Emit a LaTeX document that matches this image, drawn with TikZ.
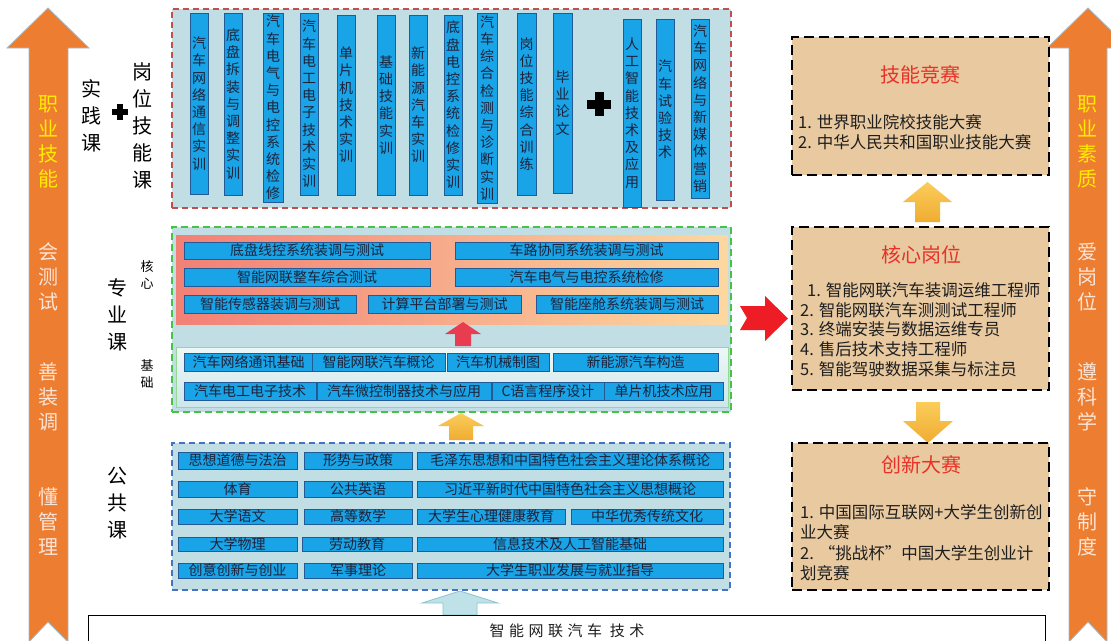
\documentclass[tikz,border=0pt]{standalone}
\usepackage{fontspec}
\setmainfont{Noto Sans CJK SC}
\newfontfamily\spacedfont[LetterSpace=30]{Noto Sans CJK SC}
\definecolor{arrOrange}{RGB}{237,125,49}
\definecolor{arrEdge}{RGB}{165,188,200}
\definecolor{hiYellow}{RGB}{255,236,0}
\definecolor{softTxt}{RGB}{252,228,214}
\definecolor{barFill}{RGB}{24,164,230}
\definecolor{barEdge}{RGB}{35,90,150}
\definecolor{barTxt}{RGB}{30,35,60}
\definecolor{panelFill}{RGB}{192,222,228}
\definecolor{redDash}{RGB}{192,80,77}
\definecolor{greenDash}{RGB}{70,195,70}
\definecolor{blueDash}{RGB}{68,114,196}
\definecolor{tanFill}{RGB}{232,201,160}
\definecolor{titleRed}{RGB}{230,50,40}
\definecolor{goldTop}{RGB}{250,205,90}
\definecolor{goldBot}{RGB}{240,172,50}
\definecolor{coreL}{RGB}{242,128,118}
\definecolor{coreR}{RGB}{252,216,160}
\definecolor{redArr}{RGB}{238,28,36}
\definecolor{pinkArr}{RGB}{232,60,80}
\definecolor{cyanArr}{RGB}{190,226,232}
\definecolor{cyanEdge}{RGB}{140,195,205}
\definecolor{itemTxt}{RGB}{30,30,30}
\newcommand\myvbar[6]{\node[vbarsty, minimum width={#4-#2}, minimum height={#5-#3}] (#1) at ({(#2+#4)/2},{(#3+#5)/2}) {#6};}
\newcommand\myhbar[6]{\node[hbarsty, minimum width={#4-#2}, minimum height={#5-#3}] (#1) at ({(#2+#4)/2},{(#3+#5)/2}) {#6};}
\newcommand\plusmark[4]{\fill[black] ({#1-#3},{#2-#4/2}) rectangle ({#1+#3},{#2+#4/2});
  \fill[black] ({#1-#4/2},{#2-#3}) rectangle ({#1+#4/2},{#2+#3});}
\begin{document}
\begin{tikzpicture}[x=1pt,y=-1pt,
  vbarsty/.style={draw=barEdge, fill=barFill, line width=0.6, inner sep=0pt, outer sep=0pt, align=center, text=barTxt, font=\fontsize{14}{17.2}\selectfont},
  hbarsty/.style={draw=barEdge, fill=barFill, line width=0.6, inner sep=0pt, outer sep=0pt, text=barTxt, font=\fontsize{14}{16}\selectfont},
  arrtxt/.style={align=center, inner sep=0pt, font=\fontsize{20}{25}\selectfont},
  lbl/.style={align=center, inner sep=0pt, text=black, font=\fontsize{20}{27}\selectfont},
  smalllbl/.style={align=center, inner sep=0pt, text=black, font=\fontsize{13}{17}\selectfont},
  panel/.style={line width=1.5, dash pattern=on 6pt off 4pt, fill=panelFill, inner sep=0pt, outer sep=0pt, anchor=north west},
  rbox/.style={draw=black, line width=2.2, dash pattern=on 10pt off 5pt, fill=tanFill, inner sep=0pt, outer sep=0pt, anchor=north west},
  rtitle/.style={text=titleRed, inner sep=0pt, font=\fontsize{20}{24}\selectfont},
  item/.style={text=itemTxt, inner sep=0pt, anchor=west, font=\fontsize{16.5}{20}\selectfont}
]
\useasboundingbox (0,0) rectangle (1111,640);
\clip (0,0) rectangle (1111,640);
\fill[white] (0,0) rectangle (1111,640);

% ---------- side arrows ----------
\filldraw[fill=arrOrange, draw=arrEdge, line width=0.8]
  (29,48) -- (7,48) -- (48,8) -- (89,48) -- (68,48) -- (68,642) -- (48,622) -- (29,642) -- cycle;
\node[arrtxt, text=hiYellow] (lzy) at (48,141.5) {职\\业\\技\\能};
\node[arrtxt, text=softTxt] (lcs) at (48,277) {会\\测\\试};
\node[arrtxt, text=softTxt] (lzt) at (48,397) {善\\装\\调};
\node[arrtxt, text=softTxt] (lgl) at (48,522) {懂\\管\\理};

\filldraw[fill=arrOrange, draw=arrEdge, line width=0.8]
  (1069,48) -- (1047,48) -- (1088,8) -- (1129,48) -- (1107,48) -- (1107,642) -- (1088,622) -- (1069,642) -- cycle;
\node[arrtxt, text=hiYellow] (rzy) at (1087,141.5) {职\\业\\素\\质};
\node[arrtxt, text=softTxt] (rag) at (1087,277) {爱\\岗\\位};
\node[arrtxt, text=softTxt] (rzk) at (1087,397) {遵\\科\\学};
\node[arrtxt, text=softTxt] (rsz) at (1087,522) {守\\制\\度};

% ---------- left labels ----------
\node[lbl] (shijian) at (91,116) {实\\践\\课};
\plusmark{120}{112}{8}{6}
\node[lbl] (gangwei) at (142,126) {岗\\位\\技\\能\\课};
\node[lbl] (zhuanye) at (117,315) {专\\业\\课};
\node[smalllbl] (hexin) at (147,275) {核\\心};
\node[smalllbl] (jichu) at (147,374) {基\\础};
\node[lbl] (gonggong) at (117,503) {公\\共\\课};

% ---------- practice panel ----------
\node[panel, draw=redDash, minimum width=559, minimum height=199] (practice) at (172,9) {};
\myvbar{v1}{190}{13}{208}{194}{汽\\车\\网\\络\\通\\信\\实\\训}
\myvbar{v2}{224}{13}{242}{195}{底\\盘\\拆\\装\\与\\调\\整\\实\\训}
\myvbar{v3}{263}{13}{283}{202}{汽\\车\\电\\气\\与\\电\\控\\系\\统\\检\\修}
\myvbar{v4}{300}{13}{318}{195}{汽\\车\\电\\工\\电\\子\\技\\术\\实\\训}
\myvbar{v5}{337}{15}{355}{195}{单\\片\\机\\技\\术\\实\\训}
\myvbar{v6}{377}{15}{395}{195}{基\\础\\技\\能\\实\\训}
\myvbar{v7}{409}{15}{427}{195}{新\\能\\源\\汽\\车\\实\\训}
\myvbar{v8}{444}{15}{462}{195}{底\\盘\\电\\控\\系\\统\\检\\修\\实\\训}
\myvbar{v9}{477}{13}{497}{203}{汽\\车\\综\\合\\检\\测\\与\\诊\\断\\实\\训}
\myvbar{v10}{517}{13}{536}{195}{岗\\位\\技\\能\\综\\合\\训\\练}
\myvbar{v11}{553}{13}{572}{193}{毕\\业\\论\\文}
\plusmark{599}{104}{12}{9}
\myvbar{v12}{623}{19}{641}{207}{人\\工\\智\\能\\技\\术\\及\\应\\用}
\myvbar{v13}{656}{19}{674}{200}{汽\\车\\试\\验\\技\\术}
\myvbar{v14}{691}{19}{709}{198}{汽\\车\\网\\络\\与\\新\\媒\\体\\营\\销}

% ---------- professional panel ----------
\node[panel, draw=greenDash, line width=1.8, dash pattern=on 7pt off 4pt, minimum width=559, minimum height=185] (major) at (172,227) {};
\shade[left color=coreL, right color=coreR] (176,235) rectangle (728,324);
\shade[top color={rgb,255:red,238;green,247;blue,247}, bottom color={rgb,255:red,205;green,230;blue,235}, draw={rgb,255:red,150;green,215;blue,150}, line width=1] (176,347) rectangle (728,407);
\myhbar{c1}{184}{242}{430}{259}{底盘线控系统装调与测试}
\myhbar{c2}{455}{242}{718}{259}{车路协同系统装调与测试}
\myhbar{c3}{184}{268}{430}{286}{智能网联整车综合测试}
\myhbar{c4}{455}{268}{718}{286}{汽车电气与电控系统检修}
\myhbar{c5}{184}{295}{356}{313}{智能传感器装调与测试}
\myhbar{c6}{368}{295}{521}{313}{计算平台部署与测试}
\myhbar{c7}{536}{295}{718}{313}{智能座舱系统装调与测试}
\fill[pinkArr] (455,346) -- (455,334) -- (445,334) -- (463,322) -- (481,334) -- (471,334) -- (471,346) -- cycle;
\myhbar{j1}{184}{353}{313}{371}{汽车网络通讯基础}
\myhbar{j2}{312}{353}{445}{371}{智能网联汽车概论}
\myhbar{j3}{447}{353}{549}{371}{汽车机械制图}
\myhbar{j4}{553}{353}{718}{371}{新能源汽车构造}
\myhbar{j5}{184}{382}{316}{400}{汽车电工电子技术}
\myhbar{j6}{317}{382}{491}{400}{汽车微控制器技术与应用}
\myhbar{j7}{492}{382}{604}{400}{C语言程序设计}
\myhbar{j8}{604}{382}{723}{400}{单片机技术应用}

% ---------- arrow public -> major ----------
\shade[top color=goldTop, bottom color=goldBot] (449,440) -- (449,426) -- (438,426) -- (461,413) -- (484,426) -- (473,426) -- (473,440) -- cycle;

% ---------- public panel ----------
\node[panel, draw=blueDash, minimum width=558, minimum height=147] (public) at (172,443) {};
\myhbar{p1}{178}{452}{297}{469}{思想道德与法治}
\myhbar{p2}{304}{452}{412}{469}{形势与政策}
\myhbar{p3}{417}{452}{723}{469}{毛泽东思想和中国特色社会主义理论体系概论}
\myhbar{p4}{178}{481}{297}{497}{体育}
\myhbar{p5}{304}{481}{412}{497}{公共英语}
\myhbar{p6}{417}{481}{723}{497}{习近平新时代中国特色社会主义思想概论}
\myhbar{p7}{178}{509}{297}{524}{大学语文}
\myhbar{p8}{304}{509}{412}{524}{高等数学}
\myhbar{p9}{417}{509}{565}{524}{大学生心理健康教育}
\myhbar{p10}{571}{509}{723}{524}{中华优秀传统文化}
\myhbar{p11}{178}{537}{297}{551}{大学物理}
\myhbar{p12}{302}{537}{412}{551}{劳动教育}
\myhbar{p13}{417}{537}{723}{551}{信息技术及人工智能基础}
\myhbar{p14}{178}{563}{297}{578}{创意创新与创业}
\myhbar{p15}{304}{563}{412}{578}{军事理论}
\myhbar{p16}{417}{563}{723}{578}{大学生职业发展与就业指导}

% ---------- base ----------
\filldraw[fill=cyanArr, draw=cyanEdge, line width=0.8] (443,615) -- (443,603) -- (422,603) -- (460,591) -- (498,603) -- (477,603) -- (477,615) -- cycle;
\node[draw=black, line width=0.8, fill=white, inner sep=0pt, outer sep=0pt, anchor=north west, minimum width=957, minimum height=45] (base) at (88,615) {};
\node[inner sep=0pt, text=itemTxt, font=\spacedfont\fontsize{15}{18}\selectfont] (basetxt) at (567,631) {智能网联汽车 技术};

% ---------- red arrow to the right ----------
\fill[redArr] (740,306) -- (765,306) -- (765,296) -- (788,318.5) -- (765,341) -- (765,330) -- (740,330) -- (747,318) -- cycle;

% ---------- right boxes ----------
\node[rbox, minimum width=257, minimum height=138] (jineng) at (792,37) {};
\node[rtitle] (jinengT) at (920,75) {技能竞赛};
\node[item] (jn1) at (798,122) {1. 世界职业院校技能大赛};
\node[item] (jn2) at (798,142) {2. 中华人民共和国职业技能大赛};

\shade[top color=goldTop, bottom color=goldBot] (915,222) -- (915,202) -- (903,202) -- (927.5,182) -- (952,202) -- (940,202) -- (940,222) -- cycle;

\node[rbox, minimum width=257, minimum height=163] (hexinG) at (792,227) {};
\node[rtitle] (hexinT) at (921,255) {核心岗位};
\node[item] (hx1) at (807,290) {1. 智能网联汽车装调运维工程师};
\node[item] (hx2) at (800,310) {2. 智能网联汽车测测试工程师};
\node[item] (hx3) at (800,329.5) {3. 终端安装与数据运维专员};
\node[item] (hx4) at (800,349) {4. 售后技术支持工程师};
\node[item] (hx5) at (800,369) {5. 智能驾驶数据采集与标注员};

\shade[top color=goldTop, bottom color=goldBot] (916,402) -- (940,402) -- (940,421) -- (953,421) -- (928,443) -- (903,421) -- (916,421) -- cycle;

\node[rbox, minimum width=257, minimum height=147] (chuangxin) at (792,443) {};
\node[rtitle] (chuangxinT) at (921,465) {创新大赛};
\node[item] (cx1) at (800,512) {1. 中国国际互联网+大学生创新创};
\node[item] (cx2) at (800,532) {业大赛};
\node[item] (cx3) at (800,553) {2. “挑战杯”中国大学生创业计};
\node[item] (cx4) at (800,573) {划竞赛};
\end{tikzpicture}
\end{document}
